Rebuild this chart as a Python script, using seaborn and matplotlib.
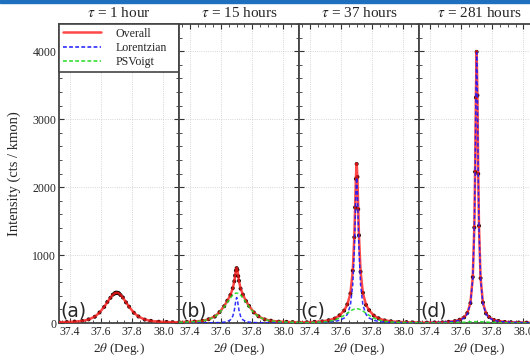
import matplotlib
matplotlib.use("Agg")
import matplotlib.pyplot as plt
import seaborn as sns
import pandas as pd
from matplotlib.ticker import MultipleLocator, FixedLocator
from matplotlib.patches import Rectangle

# ---------------- data ----------------
two_theta = [37.33, 37.38, 37.43, 37.48, 37.52, 37.56, 37.59, 37.62, 37.64, 37.66,
             37.675, 37.685, 37.69, 37.695, 37.70, 37.705, 37.71, 37.715, 37.725, 37.74,
             37.76, 37.78, 37.81, 37.84, 37.88, 37.92, 37.97, 38.02, 38.06, 38.10]

panel_titles = [r"$\tau$ = 1 hour", r"$\tau$ = 15 hours", r"$\tau$ = 37 hours", r"$\tau$ = 281 hours"]
panel_tags = ["(a)", "(b)", "(c)", "(d)"]

# panel (a)
a_data = [12, 14, 21, 30, 53, 92, 155, 236, 309, 370, 417, 431, 442, 447, 443,
          446, 438, 436, 411, 376, 303, 240, 151, 96, 50, 32, 19, 16, 11, 10]
a_overall = [11, 15, 20, 31, 51, 94, 153, 238, 306, 373, 414, 434, 440, 444, 445,
             444, 440, 434, 414, 373, 306, 238, 153, 94, 51, 31, 20, 15, 12, 10]

# panel (b)
b_data = [13, 15, 22, 32, 55, 95, 160, 247, 328, 412, 512, 614, 698, 772, 808,
          781, 690, 621, 506, 418, 322, 251, 156, 99, 52, 34, 20, 17, 12, 11]
b_overall = [12, 16, 21, 33, 53, 97, 158, 249, 325, 415, 509, 617, 695, 777, 815,
             777, 695, 617, 509, 415, 325, 249, 158, 97, 53, 33, 21, 16, 12, 11]
b_lorentz = [1, 1, 1, 2, 3, 4, 7, 13, 22, 46, 99, 188, 260, 338, 375,
             338, 260, 188, 99, 46, 22, 13, 7, 4, 3, 2, 1, 1, 1, 1]
b_psvoigt = [11, 15, 20, 31, 50, 93, 151, 236, 303, 369, 410, 429, 435, 439, 440,
             439, 435, 429, 410, 369, 303, 236, 151, 93, 50, 31, 20, 15, 11, 10]

# panel (c)
c_data = [9, 11, 17, 24, 41, 66, 113, 183, 274, 434, 770, 1262, 1701, 2120, 2340,
          2150, 1675, 1290, 755, 445, 266, 189, 109, 70, 38, 26, 15, 13, 8, 7]
c_overall = [8, 12, 16, 25, 39, 68, 111, 186, 270, 439, 763, 1275, 1688, 2135, 2350,
             2135, 1688, 1275, 763, 439, 270, 186, 111, 68, 39, 25, 16, 12, 8, 8]
c_lorentz = [3, 5, 7, 10, 15, 24, 39, 73, 126, 263, 567, 1070, 1481, 1926, 2140,
             1926, 1481, 1070, 567, 263, 126, 73, 39, 24, 15, 10, 7, 5, 3, 3]
c_psvoigt = [5, 7, 9, 15, 24, 44, 72, 113, 144, 176, 196, 205, 207, 209, 210,
             209, 207, 205, 196, 176, 144, 113, 72, 44, 24, 15, 9, 7, 5, 5]

# panel (d)
d_data = [5, 6, 9, 10, 18, 28, 48, 83, 147, 292, 676, 1405, 2225, 3318, 3990,
          3350, 2195, 1430, 660, 303, 141, 87, 46, 30, 16, 12, 7, 6, 4, 3]
d_overall = [4, 6, 8, 11, 17, 29, 47, 85, 144, 298, 668, 1418, 2210, 3334, 4000,
             3334, 2210, 1418, 668, 298, 144, 85, 47, 29, 17, 11, 8, 6, 4, 3]
d_lorentz = [4, 5, 7, 10, 15, 25, 40, 74, 130, 281, 649, 1399, 2190, 3314, 3980,
             3314, 2190, 1399, 649, 281, 130, 74, 40, 25, 15, 10, 7, 5, 4, 3]
d_psvoigt = [0, 1, 1, 1, 2, 4, 7, 11, 14, 17, 19, 19, 20, 20, 20,
             20, 20, 19, 19, 17, 14, 11, 7, 4, 2, 1, 1, 1, 0, 0]

x_ticks = [37.4, 37.6, 37.8, 38.0]
x_ticklabels = ["37.4", "37.6", "37.8", "38.0"]
y_ticks = [0, 1000, 2000, 3000, 4000]

panels = [
    (a_data, a_overall, None, None),
    (b_data, b_overall, b_lorentz, b_psvoigt),
    (c_data, c_overall, c_lorentz, c_psvoigt),
    (d_data, d_overall, d_lorentz, d_psvoigt),
]

# ---------------- style ----------------
sns.set_style("ticks")
plt.rcParams["font.family"] = ["Liberation Serif", "DejaVu Serif"]
plt.rcParams["mathtext.fontset"] = "stix"

fig = plt.figure(figsize=(5.30, 3.61), dpi=100)
fig.patches.append(Rectangle((0, 0.993), 1, 0.007, transform=fig.transFigure,
                             color="#1f6fbf", zorder=10))

left0 = 59 / 530
pw = 120 / 530
bottom = 38 / 361
ph = 299 / 361

axes = []
for i in range(4):
    ax = fig.add_axes([left0 + i * pw, bottom, pw, ph], sharey=axes[0] if axes else None)
    axes.append(ax)

for i, (ax, (dat, ov, lo, ps)) in enumerate(zip(axes, panels)):
    df = pd.DataFrame({"x": two_theta, "data": dat, "overall": ov})
    sns.scatterplot(data=df, x="x", y="data", ax=ax, color="black", s=8,
                    marker="o", edgecolor="none", zorder=2, legend=False)
    sns.lineplot(data=df, x="x", y="overall", ax=ax, color="#ff1a1a", lw=1.8,
                 alpha=0.8, zorder=3, label="Overall")
    if lo is not None:
        df["lorentz"] = lo
        df["psvoigt"] = ps
        sns.lineplot(data=df, x="x", y="lorentz", ax=ax, color="#1a1aff", lw=1.1,
                     ls=(0, (2.5, 1.5)), alpha=0.9, zorder=4, label="Lorentzian")
        sns.lineplot(data=df, x="x", y="psvoigt", ax=ax, color="#22dd22", lw=1.1,
                     ls=(0, (2.5, 1.5)), alpha=0.9, zorder=4, label="PSVoigt")
    else:
        ax.plot([], [], color="#1a1aff", lw=1.1, ls=(0, (2.5, 1.5)), label="Lorentzian")
        ax.plot([], [], color="#22dd22", lw=1.1, ls=(0, (2.5, 1.5)), label="PSVoigt")

    ax.set_xlim(37.33, 38.10)
    ax.set_ylim(0, 4400)
    ax.xaxis.set_major_locator(FixedLocator(x_ticks))
    ax.set_xticklabels(x_ticklabels)
    ax.xaxis.set_minor_locator(MultipleLocator(0.05))
    ax.yaxis.set_major_locator(FixedLocator(y_ticks))
    ax.yaxis.set_minor_locator(MultipleLocator(200))
    ax.tick_params(which="both", direction="in", top=True, right=True, labelsize=8.5,
                   pad=2, color="#333333")
    ax.tick_params(which="major", length=3.5, width=0.8)
    ax.tick_params(which="minor", length=2, width=0.6)
    ax.grid(True, which="major", ls=":", lw=0.6, color="#c8c8c8")
    for s in ax.spines.values():
        s.set_color("#444444")
        s.set_linewidth(1.3)
    ax.set_xlabel(r"2$\theta$ (Deg.)", fontsize=9.5, labelpad=2)
    ax.set_ylabel("")
    ax.set_title(panel_titles[i], fontsize=11, pad=5)
    ax.text(0.015, 0.008, panel_tags[i], transform=ax.transAxes, fontsize=13.5,
            family="DejaVu Sans", va="bottom", ha="left", zorder=6)
    if i > 0:
        ax.tick_params(labelleft=False)
        leg = ax.get_legend()
        if leg is not None:
            leg.remove()

axes[0].set_ylabel("Intensity (cts / kmon)", fontsize=10.5, labelpad=8)
handles, labels = axes[0].get_legend_handles_labels()
leg = axes[0].legend(handles, labels, loc="upper left", bbox_to_anchor=(0, 0, 1, 1),
                     mode="expand", borderaxespad=0, fontsize=8.6, frameon=True,
                     fancybox=False, edgecolor="#444444", framealpha=1,
                     handlelength=3.2, handletextpad=1.2, labelspacing=0.2,
                     borderpad=0.3)
leg.get_frame().set_linewidth(1.2)

fig.savefig("out.png", dpi=100)
